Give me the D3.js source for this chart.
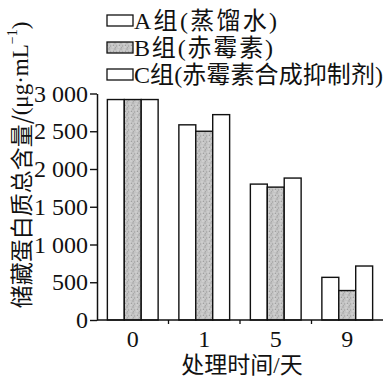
<!DOCTYPE html>
<html>
<head>
<meta charset="utf-8">
<script src="https://cdn.jsdelivr.net/npm/d3@7/dist/d3.min.js"></script>
<style>
  html, body { margin: 0; padding: 0; background: #fff; }
  svg { display: block; }
  text { font-family: "Liberation Serif", "Noto Sans CJK SC", serif; fill: #111; }
</style>
</head>
<body>
<svg id="chart" width="386" height="377"></svg>
<script>
// 数据
const days = ["0", "1", "5", "9"];
const groups = ["A组(蒸馏水)", "B组(赤霉素)", "C组(赤霉素合成抑制剂)"];
const groupA = [2920, 2585, 1800, 565];
const groupB = [2920, 2500, 1760, 390];
const groupC = [2920, 2720, 1880, 715];
const yTicks = [0, 500, 1000, 1500, 2000, 2500, 3000];

const series = [groupA, groupB, groupC];

const svg = d3.select("#chart");

// 比例尺
const x = d3.scaleBand()
    .domain(days)
    .range([97, 383])
    .paddingInner(0.29)
    .paddingOuter(0.145);

const xSub = d3.scaleBand()
    .domain(d3.range(groups.length))
    .range([0, x.bandwidth()]);

const y = d3.scaleLinear()
    .domain([0, 3000])
    .range([320, 93.5]);

// 灰色点状填充
const defs = svg.append("defs");
const pat = defs.append("pattern")
    .attr("id", "dots")
    .attr("patternUnits", "userSpaceOnUse")
    .attr("width", 6)
    .attr("height", 6);
pat.append("rect").attr("width", 6).attr("height", 6).attr("fill", "#c4c4c4");
[[0.5, 0.5, "#8a8a8a"], [3.5, 1.5, "#e6e6e6"], [2, 3.5, "#9a9a9a"], [4.5, 4.5, "#ececec"], [1, 5, "#a8a8a8"], [5, 2.8, "#989898"]]
    .forEach(([cx, cy, c]) => pat.append("rect")
        .attr("x", cx).attr("y", cy).attr("width", 1).attr("height", 1).attr("fill", c));

const fills = ["#fff", "url(#dots)", "#fff"];

// 柱子
const gBars = svg.append("g");
days.forEach((day, i) => {
    series.forEach((vals, j) => {
        gBars.append("rect")
            .attr("x", x(day) + xSub(j))
            .attr("y", y(vals[i]))
            .attr("width", xSub.bandwidth())
            .attr("height", y(0) - y(vals[i]))
            .attr("fill", fills[j])
            .attr("stroke", "#111")
            .attr("stroke-width", 1.4);
    });
});

// y轴
const fmt = d3.formatLocale({ decimal: ".", thousands: " ", grouping: [3], currency: ["", ""] }).format(",");
const yAxis = svg.append("g")
    .attr("transform", "translate(97,0)")
    .call(d3.axisLeft(y).tickValues(yTicks).tickSize(7).tickSizeOuter(0).tickPadding(2).tickFormat(fmt));
yAxis.select(".domain").attr("stroke", "#111").attr("stroke-width", 1.5);
yAxis.selectAll(".tick line").attr("stroke", "#111").attr("stroke-width", 1.4);
yAxis.selectAll(".tick text")
    .attr("font-size", 24)
    .attr("font-family", "Liberation Serif, serif")
    .attr("fill", "#111");

// x轴
svg.append("line")
    .attr("x1", 97).attr("x2", 383)
    .attr("y1", y(0)).attr("y2", y(0))
    .attr("stroke", "#111").attr("stroke-width", 1.5);

const step = x.step();
days.slice(1).forEach(day => {
    const sx = x(day) - step * x.paddingInner() / 2;
    svg.append("line")
        .attr("x1", sx).attr("x2", sx)
        .attr("y1", y(0)).attr("y2", y(0) + 4)
        .attr("stroke", "#111").attr("stroke-width", 1.3);
});

svg.append("g").selectAll("text")
    .data(days)
    .join("text")
    .attr("x", d => x(d) + x.bandwidth() / 2)
    .attr("y", 347)
    .attr("text-anchor", "middle")
    .attr("font-size", 24)
    .text(d => d);

// 坐标轴标题
svg.append("text")
    .attr("x", 242)
    .attr("y", 373)
    .attr("text-anchor", "middle")
    .attr("font-size", 23)
    .attr("font-family", "Noto Sans CJK SC, sans-serif")
    .text("处理时间/天");

const yTitle = svg.append("text")
    .attr("transform", "translate(20,165) rotate(-90)")
    .attr("text-anchor", "middle")
    .attr("dominant-baseline", "central")
    .attr("font-size", 23);
yTitle.append("tspan").attr("font-family", "Noto Sans CJK SC, sans-serif").text("储藏蛋白质总含量/");
yTitle.append("tspan").text("(μg·mL");
yTitle.append("tspan").attr("font-size", 14).attr("dy", -8).text("−1");
yTitle.append("tspan").attr("dy", 8).text(")");

// 图例
const legend = svg.append("g");
const legendY = [15, 42, 69];
const legendW = [143, 139, 249];
groups.forEach((name, j) => {
    legend.append("rect")
        .attr("x", 107).attr("y", legendY[j])
        .attr("width", 26).attr("height", 11)
        .attr("fill", fills[j])
        .attr("stroke", "#111")
        .attr("stroke-width", 1.3);
    legend.append("text")
        .attr("x", 134)
        .attr("y", legendY[j] + 14)
        .attr("font-size", 24)
        .attr("textLength", legendW[j])
        .attr("lengthAdjust", "spacing")
        .text(name);
});
</script>
</body>
</html>
